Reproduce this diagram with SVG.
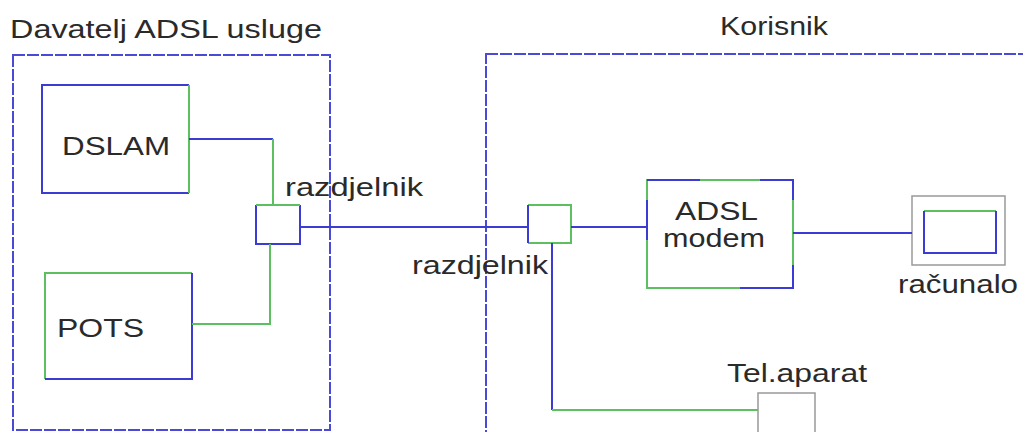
<svg xmlns="http://www.w3.org/2000/svg" width="1023" height="432" viewBox="0 0 1023 432">
<style>
text{font-family:"Liberation Sans",Arial,sans-serif;font-size:25px;fill:#2a2a2a}
.b{fill:none;stroke:#3c3cd2;stroke-width:2}
.g{fill:none;stroke:#5cc060;stroke-width:2}
.k{fill:none;stroke:#999;stroke-width:1.5}
.o{fill:none;stroke:#4a4ad6;stroke-width:2;stroke-dasharray:12 2}
</style>
<rect width="1023" height="432" fill="#fff"/>
<g id="provider">
<rect class="o" x="13" y="55" width="317" height="375"/>
<text x="10" y="38" textLength="312" lengthAdjust="spacingAndGlyphs">Davatelj ADSL usluge</text>
</g>
<g id="user">
<rect class="o" x="486" y="54" width="600" height="420"/>
<text x="720" y="35" textLength="108" lengthAdjust="spacingAndGlyphs">Korisnik</text>
</g>
<g id="dslam">
<path class="b" d="M189,193 H42 V85 H189"/>
<path class="g" d="M189,85 V193"/>
<text x="62" y="155" textLength="108" lengthAdjust="spacingAndGlyphs">DSLAM</text>
</g>
<g id="pots">
<path class="g" d="M45,379 V273 H192"/>
<path class="b" d="M192,273 V379 H45"/>
<text x="57" y="337" textLength="87" lengthAdjust="spacingAndGlyphs">POTS</text>
</g>
<g id="splitter1">
<path class="b" d="M256,205 V244 H300 V205"/>
<path class="g" d="M256,205 H300"/>
<text x="285" y="196" textLength="138" lengthAdjust="spacingAndGlyphs">razdjelnik</text>
</g>
<g id="splitter2">
<path class="g" d="M528,205 H571 V243 H528"/>
<path class="b" d="M528,205 V243"/>
<text x="412" y="274" textLength="136" lengthAdjust="spacingAndGlyphs">razdjelnik</text>
</g>
<g id="modem">
<rect class="g" x="647" y="180" width="146" height="108"/>
<path class="b" d="M647,180 H700 M760,180 H793 V200 M647,200 V240 M740,288 H793 V265"/>
<text x="675" y="220" textLength="83" lengthAdjust="spacingAndGlyphs">ADSL</text>
<text x="663" y="247" textLength="102" lengthAdjust="spacingAndGlyphs">modem</text>
</g>
<g id="racunalo">
<rect class="k" x="912" y="196" width="93" height="69"/>
<path class="g" d="M924,211 H996"/>
<path class="b" d="M996,211 V253 H924 V211"/>
<text x="898" y="293" textLength="120" lengthAdjust="spacingAndGlyphs">računalo</text>
</g>
<g id="telaparat">
<rect class="k" x="758" y="393" width="57" height="50"/>
<text x="727" y="382" textLength="140" lengthAdjust="spacingAndGlyphs">Tel.aparat</text>
</g>
<g id="connectors">
<path class="b" d="M189,139 H273"/>
<path class="g" d="M273,139 V205"/>
<path class="g" d="M192,324 H270 V244"/>
<path class="b" d="M300,227 H528"/>
<path class="b" d="M571,227 H647"/>
<path class="b" d="M793,233 H912"/>
<path class="b" d="M552,243 V410"/>
<path class="g" d="M552,410 H758"/>
</g>
</svg>
